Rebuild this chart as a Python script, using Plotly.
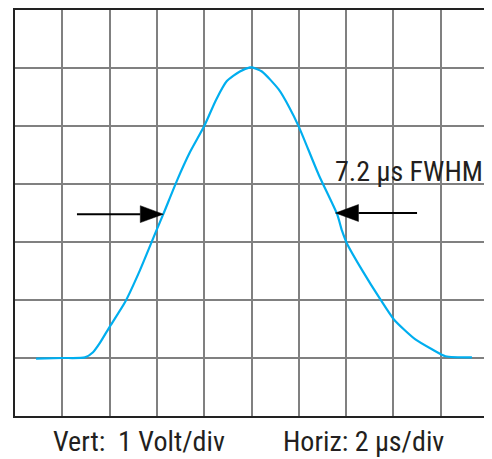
import plotly.graph_objects as go

# Pulse waveform (time in µs, amplitude in V / divisions)
time_us = [0.89, 2.0, 2.96, 3.3, 3.59, 4.02, 4.65, 5.29, 5.99, 6.27, 6.84, 7.4, 7.99, 8.5, 8.95, 9.51, 9.94,
           10.02, 10.44, 11.15, 11.6, 12.0, 12.84, 13.62, 13.83, 14.03, 14.67, 15.45, 16.03, 16.93, 17.63, 18.2, 19.32]
volts = [0.99, 1.0, 1.01, 1.1, 1.26, 1.55, 1.96, 2.52, 3.21, 3.48, 4.05, 4.55, 4.99, 5.45, 5.77, 5.94, 6.01,
         6.01, 5.94, 5.63, 5.32, 4.99, 4.16, 3.48, 3.19, 2.98, 2.52, 2.01, 1.66, 1.32, 1.15, 1.03, 1.01]

x_divisions = list(range(0, 21, 2))   # 2 µs/div, 10 divisions
y_divisions = list(range(0, 8))       # 1 V/div, 7 divisions

fwhm_label = "7.2 µs FWHM"
vert_label = "Vert:\u00a0\u00a01 Volt/div"
horiz_label = "Horiz: 2 µs/div"

# FWHM marker points (where the arrows touch the trace) and arrow tails
fwhm_x = [6.27, 13.55]
fwhm_y = [3.48, 3.5]
arrow_tail_x = [2.62, 17.0]

FONT = "Roboto Condensed, Liberation Sans, sans-serif"
TEXT_COLOR = "#231f20"

fig = go.Figure()
fig.add_trace(go.Scatter(x=time_us, y=volts, mode="lines",
                         line=dict(color="#00aeef", width=2.2, shape="spline", smoothing=0.6),
                         hoverinfo="skip", showlegend=False))

# the page body adds an 8px offset, so the figure is a bit smaller than the window
W, H = 484, 451
ml, mr, mt, mb = 7, 4, 0, 43
pw, ph = W - ml - mr, H - mt - mb
ux = (x_divisions[-1] - x_divisions[0]) / pw   # data units per pixel
uy = (y_divisions[-1] - y_divisions[0]) / ph

head_len, head_half = 23, 8.5
for tip_x, tip_y, tail_x in zip(fwhm_x, fwhm_y, arrow_tail_x):
    d = 1 if tail_x < tip_x else -1
    base_x = tip_x - d * head_len * ux
    fig.add_shape(type="line", x0=tail_x, y0=tip_y, x1=base_x, y1=tip_y,
                  line=dict(color="black", width=2))
    path = (f"M {tip_x} {tip_y} L {base_x} {tip_y + head_half * uy} "
            f"L {base_x} {tip_y - head_half * uy} Z")
    fig.add_shape(type="path", path=path, fillcolor="black", line=dict(color="black", width=0.5))

fig.add_annotation(x=fwhm_x[1], y=4.02, xref="x", yref="y", text=fwhm_label, showarrow=False,
                   xanchor="left", yanchor="bottom", xshift=-2, yshift=-7,
                   font=dict(family=FONT, size=28, color=TEXT_COLOR))
fig.add_annotation(x=(139 - 15) / pw, y=-0.064, xref="paper", yref="paper", text=vert_label,
                   showarrow=False, xanchor="center", yanchor="middle",
                   font=dict(family=FONT, size=28, color=TEXT_COLOR))
fig.add_annotation(x=(363 - 15) / pw, y=-0.064, xref="paper", yref="paper", text=horiz_label,
                   showarrow=False, xanchor="center", yanchor="middle",
                   font=dict(family=FONT, size=28, color=TEXT_COLOR))

axis_common = dict(showgrid=True, gridcolor="#808080", gridwidth=1.5, zeroline=False,
                   showticklabels=False, ticks="", showline=True, linecolor="#222222",
                   linewidth=2, mirror=True, fixedrange=True)
fig.update_xaxes(range=[x_divisions[0], x_divisions[-1]], tickvals=x_divisions, **axis_common)
fig.update_yaxes(range=[y_divisions[0], y_divisions[-1]], tickvals=y_divisions, **axis_common)

fig.update_layout(width=W, height=H, margin=dict(l=ml, r=mr, t=mt, b=mb),
                  paper_bgcolor="white", plot_bgcolor="white", showlegend=False)

fig.write_html("out.html")
